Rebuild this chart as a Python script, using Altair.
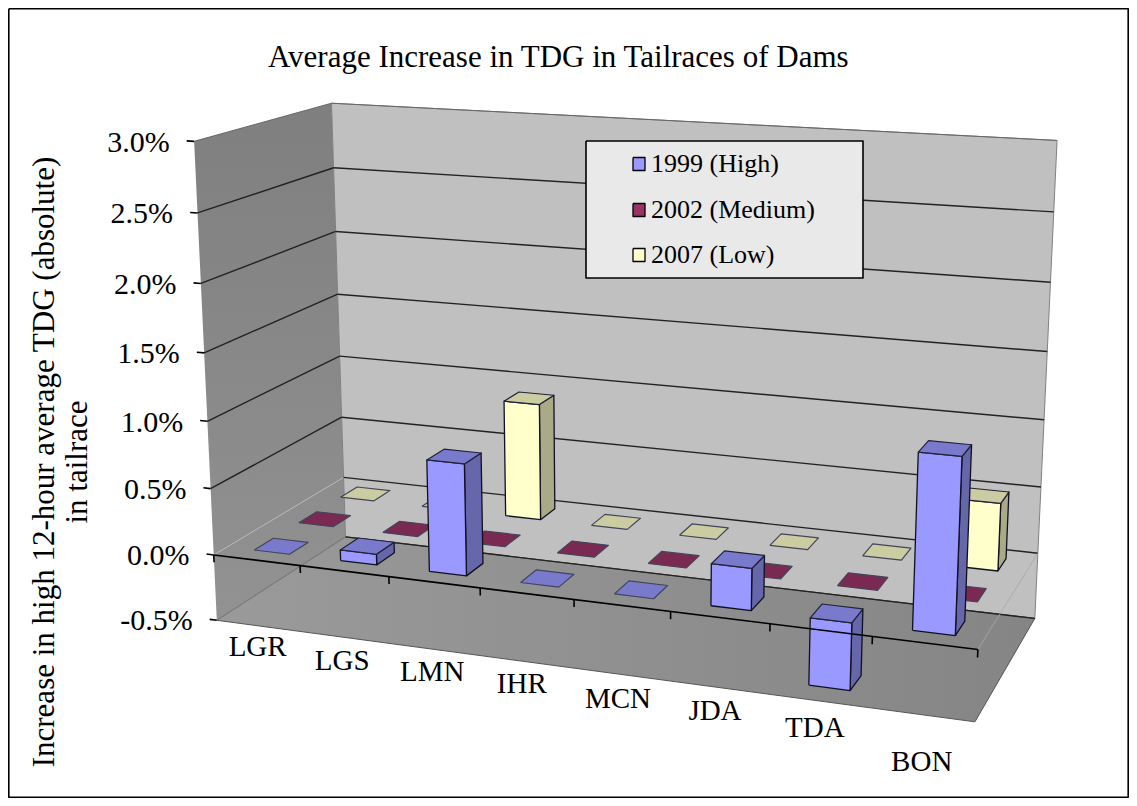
import altair as alt
import numpy as np
import pandas as pd

# ---- data ----
categories = ["LGR", "LGS", "LMN", "IHR", "MCN", "JDA", "TDA", "BON"]
high_1999 = [0.0, 0.08, 0.82, 0.0, 0.0, 0.30, -0.48, 1.22]
medium_2002 = [0.0, 0.0, 0.0, 0.0, 0.0, 0.0, 0.0, 0.0]
low_2007 = [0.0, 0.0, 0.90, 0.0, 0.0, 0.0, 0.0, 0.5]
series_names = ["1999 (High)", "2002 (Medium)", "2007 (Low)"]
value_ticks = [-0.5, 0.0, 0.5, 1.0, 1.5, 2.0, 2.5, 3.0]
tick_labels = ["-0.5%", "0.0%", "0.5%", "1.0%", "1.5%", "2.0%", "2.5%", "3.0%"]
label_drop = [87, 90, 90, 90, 94, 93, 98, 119]
label_shift = [1, -2, -2, -5, -4, -5, -6, -3]

# ---- styles ----
FONT = "Liberation Serif"
FRONT = ["#9999FF", "#993366", "#FFFFCC"]
TOP = ["#7A7ACC", "#7A2952", "#CCCCA3"]
SIDE = ["#6666AA", "#662244", "#AAAA88"]
W, H = 1121, 790
OX, OY = 8, 8

# ---- 3-D box: calibration of the perspective view  (u, value, w) -> pixel ----
front_left = [(217, 621), (213, 555), (210, 488), (208, 421), (205, 352), (201, 284), (197, 213), (194, 142)]
back_left = [(346, 537), (344, 477), (342, 417), (339, 356), (337, 295), (335, 232), (333, 167), (333, 103)]
back_right = [(1035, 618), (1037, 553), (1042, 488), (1047, 352), (1050, 282), (1053, 212), (1058, 140)]
back_right_v = [-0.5, 0.0, 0.5, 1.5, 2.0, 2.5, 3.0]
front_right = [(975, 722), (978, 649)]
front_right_v = [-0.5, 0.0]

obs = []
for v, p in zip(value_ticks, front_left):
    obs.append((0, v, 0, *p))
for v, p in zip(value_ticks, back_left):
    obs.append((0, v, 1, *p))
for v, p in zip(back_right_v, back_right):
    obs.append((1, v, 1, *p))
for v, p in zip(front_right_v, front_right):
    obs.append((1, v, 0, *p))
A = []
for (a, b, c, x, y) in obs:
    A.append([a, b, c, 1, 0, 0, 0, 0, -x * a, -x * b, -x * c, -x])
    A.append([0, 0, 0, 0, a, b, c, 1, -y * a, -y * b, -y * c, -y])
M = np.linalg.svd(np.array(A, float))[2][-1].reshape(3, 4)


def proj(u, v, w):
    q = M @ np.array([u, v, w, 1.0])
    return (q[0] / q[2] - OX, q[1] / q[2] - OY)


rows = []
pid = [0]


def poly(points, fill="transparent", stroke="transparent", sw=1.0, close=True):
    pts = list(points)
    if close:
        pts = pts + [pts[0]]
    for n, (x, y) in enumerate(pts):
        rows.append(dict(pid=pid[0], n=n, x=x, y=y, fill=fill, stroke=stroke, sw=sw))
    pid[0] += 1


LO, HI = value_ticks[0], value_ticks[-1]
# back wall, floor outline
poly([proj(0, LO, 1), proj(0, HI, 1), proj(1, HI, 1), proj(1, LO, 1)], fill="#C0C0C0", stroke="#808080", sw=1)
poly([proj(0, LO, 0), proj(0, LO, 1), proj(1, LO, 1), proj(1, LO, 0)], stroke="#555555", sw=1)
# gridlines
for v in value_ticks:
    left_col = "#C4C4C4" if v == 0.0 else ("#8A8A8A" if v == LO else "#222222")
    if v != HI:
        poly([proj(0, v, 0), proj(0, v, 1)], stroke=left_col, sw=1.4 if v not in (0.0, LO) else 0.8, close=False)
        poly([proj(0, v, 1), proj(1, v, 1)], stroke="#222222", sw=1.4, close=False)
poly([proj(0, HI, 0), proj(0, HI, 1), proj(1, HI, 1)], stroke="#666666", sw=1, close=False)
poly([proj(1, 0, 1), proj(1, 0, 0)], stroke="#A8A8A8", sw=0.8, close=False)

# bars, painted back to front
BW, BD, SHIFT = 0.41, 0.42, 0.02
values = [high_1999, medium_2002, low_2007]
EDGE = "#10101F"
for k in [2, 1, 0]:
    w0 = (k + 0.5 - BD / 2) / 3
    w1 = (k + 0.5 + BD / 2) / 3
    for i in range(len(categories) - 1, -1, -1):
        val = values[k][i]
        u0 = (i + 0.5 + SHIFT - BW / 2) / 8
        u1 = (i + 0.5 + SHIFT + BW / 2) / 8
        vt = max(val, 0.0)
        vb = min(val, 0.0)
        if val != 0:
            poly([proj(u1, vb, w0), proj(u1, vt, w0), proj(u1, vt, w1), proj(u1, vb, w1)],
                 fill=SIDE[k], stroke=EDGE, sw=1.3)
            poly([proj(u0, vb, w0), proj(u0, vt, w0), proj(u1, vt, w0), proj(u1, vb, w0)],
                 fill=FRONT[k], stroke=EDGE, sw=1.3)
        poly([proj(u0, vt, w0), proj(u1, vt, w0), proj(u1, vt, w1), proj(u0, vt, w1)],
             fill=TOP[k], stroke="#22223A" if val else "#44445A", sw=1.2)

# value axis ticks, category axis + ticks
for v in value_ticks:
    poly([proj(0, v, 0), proj(-0.0105, v, 0)], stroke="black", sw=1.6, close=False)
poly([proj(0, 0, 0), proj(1, 0, 0)], stroke="black", sw=1.6, close=False)
for i in range(len(categories) + 1):
    poly([proj(i / 8, 0, 0), proj(i / 8, -0.055, 0)], stroke="black", sw=1.6, close=False)

# legend box
LX0, LX1, LY0, LY1 = 586 - OX, 863 - OX, 141 - OY, 278 - OY
poly([(LX0, LY0), (LX1, LY0), (LX1, LY1), (LX0, LY1)], fill="#E9E9E9", stroke="black", sw=1.6)
legend_y = [164, 210, 255]
for k, ly in enumerate(legend_y):
    x0, y0 = 633 - OX, ly - 6.5 - OY
    poly([(x0, y0), (x0 + 12, y0), (x0 + 12, y0 + 13), (x0, y0 + 13)], fill=FRONT[k], stroke="black", sw=1.3)

# outer frame
poly([(0.8, 0.8), (W - 0.8, 0.8), (W - 0.8, H - 0.8), (0.8, H - 0.8)], stroke="black", sw=1.6)

df = pd.DataFrame(rows)
xs = alt.Scale(domain=[0, W], range=[0, W])
ys = alt.Scale(domain=[0, H], range=[0, H])
x_enc = alt.X("x:Q", scale=xs, axis=None)
y_enc = alt.Y("y:Q", scale=ys, axis=None)


def shaded(points, c0, c1, x2, y2):
    pts = list(points) + [points[0]]
    d = pd.DataFrame(dict(x=[p[0] for p in pts], y=[p[1] for p in pts], n=range(len(pts))))
    grad = alt.Gradient(
        gradient="linear",
        stops=[alt.GradientStop(color=c0, offset=0), alt.GradientStop(color=c1, offset=1)],
        x1=0, y1=0, x2=x2, y2=y2,
    )
    return alt.Chart(d).mark_line(fill=grad, strokeOpacity=0).encode(x=x_enc, y=y_enc, order=alt.Order("n:Q"))


left_wall = shaded([proj(0, LO, 0), proj(0, HI, 0), proj(0, HI, 1), proj(0, LO, 1)], "#7F7F7F", "#929292", 0, 1)
floor = shaded([proj(0, LO, 0), proj(0, LO, 1), proj(1, LO, 1), proj(1, LO, 0)], "#9A9A9A", "#858585", 1, 0)

shapes = alt.Chart(df).mark_line(interpolate="linear", strokeCap="butt", strokeJoin="round").encode(
    x=x_enc,
    y=y_enc,
    order=alt.Order("n:Q"),
    detail="pid:N",
    fill=alt.Fill("fill:N", scale=None),
    stroke=alt.Stroke("stroke:N", scale=None),
    strokeWidth=alt.StrokeWidth("sw:Q", scale=None),
)

# value labels
val_lab = pd.DataFrame(
    [dict(x=proj(-0.0105, v, 0)[0], y=proj(-0.0105, v, 0)[1], t=t) for v, t in zip(value_ticks, tick_labels)]
)
val_text = alt.Chart(val_lab).mark_text(font=FONT, fontSize=30, align="right", baseline="middle", dx=-17, dy=2, color="black").encode(
    x=x_enc, y=y_enc, text="t:N"
)
# category labels
cat_rows = []
for i, c in enumerate(categories):
    px, py = proj((i + 0.5) / 8, 0, 0)
    cat_rows.append(dict(x=px + label_shift[i], y=py + label_drop[i], t=c))
cat_text = alt.Chart(pd.DataFrame(cat_rows)).mark_text(font=FONT, fontSize=29, align="center", baseline="middle", color="black").encode(
    x=x_enc, y=y_enc, text="t:N"
)
# legend labels
leg_df = pd.DataFrame(dict(x=[651 - OX] * 3, y=[ly - OY for ly in legend_y], t=series_names))
leg_text = alt.Chart(leg_df).mark_text(font=FONT, fontSize=26, align="left", baseline="middle", color="black").encode(
    x=x_enc, y=y_enc, text="t:N"
)
# y-axis title
ya_df = pd.DataFrame(dict(x=[45 - OX, 78 - OX], y=[462 - OY, 462 - OY],
                          t=["Increase in high 12-hour average TDG (absolute)", "in tailrace"]))
ya_text = alt.Chart(ya_df).mark_text(font=FONT, fontSize=31, align="center", baseline="middle", angle=270, color="black").encode(
    x=x_enc, y=y_enc, text="t:N"
)

chart = alt.layer(left_wall, floor, shapes, val_text, cat_text, leg_text, ya_text).properties(
    width=W,
    height=H,
    padding=0,
    autosize=alt.AutoSizeParams(type="none"),
    background="white",
    title=alt.TitleParams(
        text="Average Increase in TDG in Tailraces  of Dams",
        font=FONT, fontSize=31, fontWeight="normal", color="black",
        anchor="start", frame="group", orient="top", baseline="alphabetic",
        offset=0, dx=260, dy=90,
    ),
).configure_view(stroke=None)

chart.save("out.html", embed_options={"renderer": "svg", "actions": False})
